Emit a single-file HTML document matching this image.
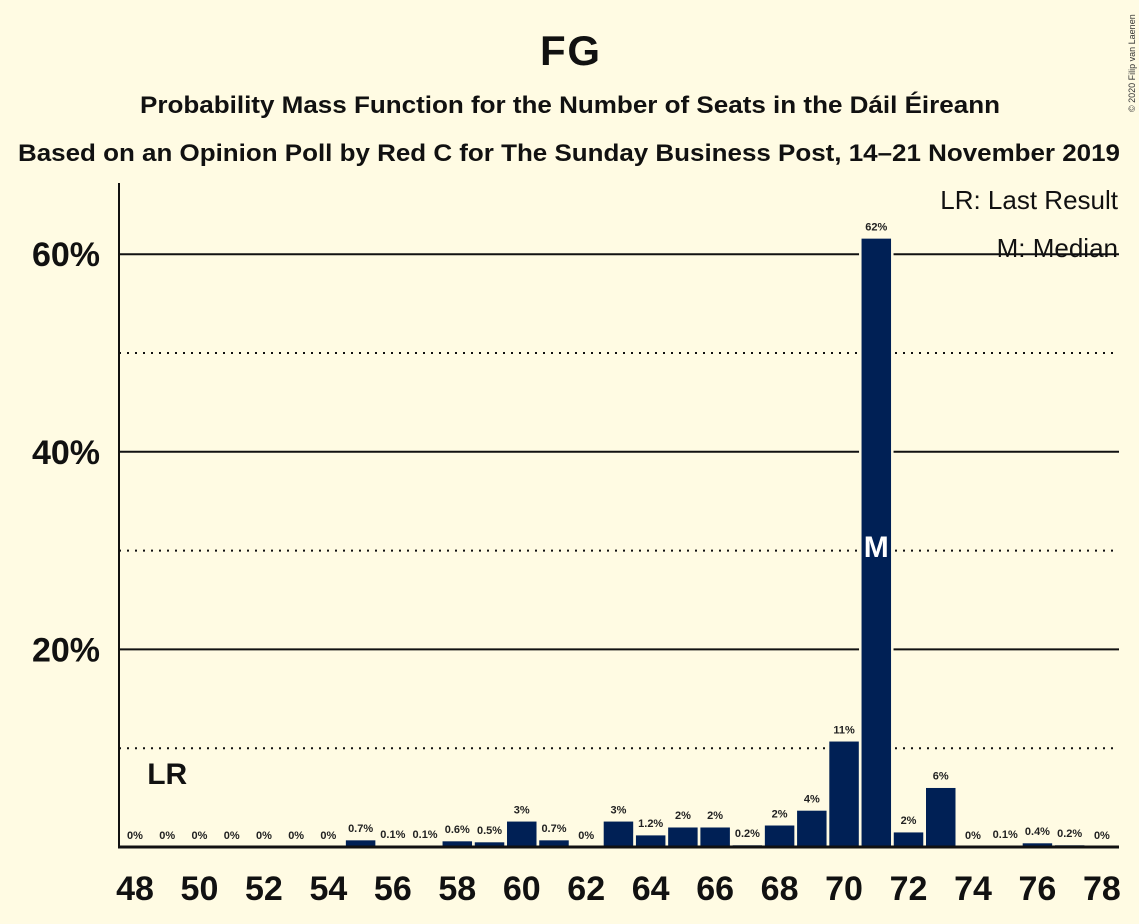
<!DOCTYPE html>
<html><head><meta charset="utf-8"><style>
body{margin:0;background:#fffbe3;}
svg{display:block;font-family:"Liberation Sans",sans-serif;font-weight:bold;}
</style></head><body>
<svg width="1139" height="924" id="c">
<rect width="1139" height="924" fill="#fffbe3"/>
<text x="570" y="65" text-anchor="middle" font-size="42" fill="#111" textLength="60">FG</text>
<text x="570" y="113" text-anchor="middle" font-size="24" fill="#111" textLength="860" lengthAdjust="spacingAndGlyphs">Probability Mass Function for the Number of Seats in the Dáil Éireann</text>
<text x="569" y="161" text-anchor="middle" font-size="24" fill="#111" textLength="1102" lengthAdjust="spacingAndGlyphs">Based on an Opinion Poll by Red C for The Sunday Business Post, 14–21 November 2019</text>
<text x="1135" y="112" transform="rotate(-90 1135 112)" font-size="9" font-weight="normal" fill="#333">© 2020 Filip van Laenen</text>
<g id="grid"></g>
<g id="bars"></g>
<g id="labels"></g>
<line x1="119" y1="183" x2="119" y2="848" stroke="#111" stroke-width="2"/>
<line x1="118" y1="847" x2="1119" y2="847" stroke="#111" stroke-width="3"/>
<text x="1118" y="209" text-anchor="end" font-size="26" font-weight="normal" fill="#111">LR: Last Result</text>
<text x="1118" y="257" text-anchor="end" font-size="26" font-weight="normal" fill="#111">M: Median</text>
</svg>
<script>
const seats=[48,49,50,51,52,53,54,55,56,57,58,59,60,61,62,63,64,65,66,67,68,69,70,71,72,73,74,75,76,77,78];
const probs=[0,0,0,0,0,0,0,0.7,0.1,0.1,0.6,0.5,2.6,0.7,0,2.6,1.2,2,2,0.2,2.2,3.7,10.7,61.6,1.5,6,0,0.1,0.4,0.2,0];
const probLabels=["0%","0%","0%","0%","0%","0%","0%","0.7%","0.1%","0.1%","0.6%","0.5%","3%","0.7%","0%","3%","1.2%","2%","2%","0.2%","2%","4%","11%","62%","2%","6%","0%","0.1%","0.4%","0.2%","0%"];
const yTicks=[20,40,60];
const yMinor=[10,30,50];
const xTickLabels=[48,50,52,54,56,58,60,62,64,66,68,70,72,74,76,78];
const lastResult=49, median=71;
const NS="http://www.w3.org/2000/svg";
const X=s=>135+(s-48)*32.23;
const Y=p=>847-p*9.88;
function mk(t,a,parent,txt){const e=document.createElementNS(NS,t);for(const k in a)e.setAttribute(k,a[k]);if(txt!==undefined)e.textContent=txt;document.getElementById(parent).appendChild(e);return e;}
yMinor.forEach(v=>{const e=mk('line',{x1:119,x2:1119,y1:Y(v),y2:Y(v),stroke:'#111','stroke-width':2,'stroke-dasharray':'2,6'},'grid');

});
yTicks.forEach(v=>{const e=mk('line',{x1:119,x2:1119,y1:Y(v),y2:Y(v),stroke:'#111','stroke-width':2},'grid');


const t=mk('text',{x:100,y:Y(v)+12,'text-anchor':'end','font-size':34,fill:'#111'},'grid',v+'%');

});
xTickLabels.forEach(s=>{const t=mk('text',{x:X(s),y:900,'text-anchor':'middle','font-size':34,fill:'#111'},'grid',s);

});
seats.forEach((s,i)=>{const p=probs[i];
if(p>0){const r=mk('rect',{x:X(s)-16,y:Y(p)-1,width:32,height:847-Y(p)+1,fill:'#002055',stroke:'#fffbe3','stroke-width':2.5},'bars');

}
const t=mk('text',{x:X(s),y:Math.min(Y(p)-8,841),'text-anchor':'middle','font-size':11,fill:'#222'},'labels',probLabels[i]);

});
const lr=mk('text',{x:X(lastResult),y:784,'text-anchor':'middle','font-size':30,fill:'#111'},'labels','LR');


const m=mk('text',{x:X(median),y:557,'text-anchor':'middle','font-size':30,fill:'#fff'},'labels','M');


</script>
</body></html>
